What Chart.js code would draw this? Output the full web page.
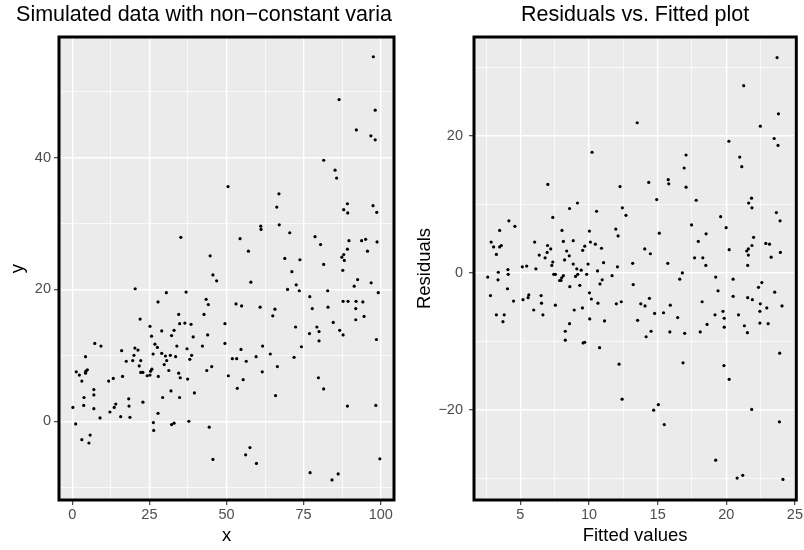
<!DOCTYPE html>
<html>
<head>
<meta charset="utf-8">
<script src="https://cdn.jsdelivr.net/npm/chart.js@4.4.1/dist/chart.umd.min.js"></script>
<style>
  body { margin: 0; background: #fff; }
  #wrap { position: relative; width: 804px; height: 550px; }
  canvas { position: absolute; top: 0; }
  #leftChart { left: 0; }
  #rightChart { left: 402px; }
</style>
</head>
<body>
<div id="wrap">
  <canvas id="leftChart" width="402" height="550"></canvas>
  <canvas id="rightChart" width="402" height="550"></canvas>
</div>
<script>
// left panel: simulated data
const xVals = [
  35.2, 44.7, 50.5, 45.6,
  97.6, 86.5, 98.2, 92.1, 96.8, 98.2, 81.5, 85.2, 85.7, 67.0, 66.3, 89.2, 88.0, 89.3, 97.5, 98.7,
  61.1, 61.2, 67.1, 54.4, 70.5, 78.7, 80.5, 89.7, 93.8, 95.1, 98.8, 57.1, 89.2, 95.7, 88.0, 87.4,
  88.2, 68.9, 73.8, 81.5, 71.2, 87.7,
  57.9, 69.8, 72.6, 73.6, 92.5, 91.4, 96.9, 99.2, 77.0, 82.8, 53.1, 54.9, 60.9, 87.8, 89.4, 92.0,
  94.2, 77.8, 82.9, 91.9, 65.0, 65.7, 94.6, 91.9, 84.6, 49.5, 72.4, 79.3, 80.0, 76.9, 86.7, 87.8,
  98.6, 80.0, 49.5, 54.7, 61.7, 74.3, 51.9, 53.3, 56.4, 59.6, 64.2, 71.9, 66.5, 61.6, 50.6, 55.4,
  53.5, 79.8, 81.5, 65.9, 89.2, 98.4, 57.6, 56.2, 59.7, 99.7, 77.1, 86.2, 84.2,
  46.8, 20.4, 30.5, 36.9, 27.8, 43.4, 44.1, 22.0, 34.5, 42.7, 34.8, 36.5, 38.5, 25.2, 29.0, 33.0,
  25.7, 32.2, 39.2, 43.9, 7.3, 9.3, 26.8, 27.6, 33.9, 37.2, 42.2, 16.0, 20.3, 21.3, 26.2, 29.0,
  30.2, 31.8, 33.5, 38.7, 4.3, 20.0, 17.5, 19.6, 22.2, 30.6, 38.1, 21.7, 29.8, 1.3, 2.3, 3.1,
  4.4, 4.9, 4.3, 22.2, 22.9, 24.3, 25.2, 25.4, 25.8, 27.9, 31.3, 34.5, 35.0, 37.4, 43.6, 45.2,
  11.8, 13.3, 16.3, 7.0, 7.0, 3.8, 3.7, 0.2, 7.0, 9.0, 12.2, 13.6, 14.1, 15.7, 18.3, 18.4,
  18.7, 22.9, 29.3, 32.0, 34.8, 39.6, 27.8, 1.1, 26.3, 32.2, 33.0, 37.8, 26.4, 44.4, 3.1, 5.8,
  5.4, 45.6
];
const yVals = [
  27.9, 25.1, 35.6, 22.2,
  55.3, 48.8, 47.2, 44.2, 43.3, 42.7, 39.6, 38.1, 36.9, 34.5, 32.5, 33.0, 32.1, 31.6, 32.7, 31.7,
  29.6, 29.1, 29.8, 27.7, 28.6, 28.0, 26.8, 27.4, 27.4, 27.6, 27.2, 25.8, 26.1, 25.8, 25.3, 24.9,
  24.4, 24.7, 24.5, 23.8, 22.7, 22.9,
  21.1, 20.0, 20.7, 19.8, 21.5, 20.5, 21.0, 19.5, 18.9, 19.8, 17.8, 17.5, 17.3, 18.2, 18.2, 18.2,
  18.1, 17.1, 17.3, 17.1, 16.0, 17.0, 15.9, 15.4, 15.0, 14.8, 14.3, 14.3, 13.6, 13.3, 13.8, 13.1,
  12.4, 12.2, 11.8, 10.9, 11.4, 11.3, 9.5, 9.5, 9.1, 9.8, 10.2, 9.7, 8.3, 7.5, 6.9, 6.3,
  5.0, 6.6, 4.9, 3.9, 2.3, 2.4, -4.0, -5.1, -6.4, -5.7, -7.8, -8.0, -8.9,
  21.3, 20.1, 19.5, 19.6, 18.1, 18.5, 17.7, 15.5, 16.2, 16.2, 14.8, 14.9, 14.7, 14.4, 13.7, 13.8,
  12.9, 13.0, 12.8, 13.1, 11.8, 11.4, 11.7, 11.2, 11.4, 11.0, 11.4, 10.7, 11.1, 10.8, 10.2, 10.3,
  9.9, 10.0, 9.8, 10.0, 9.8, 10.0, 9.1, 9.2, 9.2, 9.2, 9.4, 8.4, 8.6, 7.5, 7.0, 6.1,
  7.6, 7.8, 7.3, 7.4, 7.4, 6.9, 7.0, 7.6, 7.9, 6.8, 7.7, 7.3, 6.6, 6.4, 7.7, 8.3,
  6.1, 6.5, 6.8, 4.8, 4.0, 3.6, 2.4, 2.1, 1.9, 0.5, 1.4, 2.1, 2.6, 0.7, 3.4, 2.3,
  0.6, 2.9, 3.6, 4.6, 3.6, 4.3, 1.2, -0.4, -0.2, -0.5, -0.3, 0.0, -1.4, -0.9, -2.8, -2.1,
  -3.3, -5.8
];

// right panel: residuals vs fitted
const fittedVals = [
  10.22, 7.0, 12.26, 9.16, 8.58, 12.43, 10.55, 12.69, 7.36, 4.16, 4.6, 3.49, 8.03, 10.03, 11.95, 12.12,
  2.87, 3.05, 3.49, 3.61, 3.25, 6.04, 6.98, 7.21, 6.95, 6.37, 6.8, 7.36, 7.29, 8.13, 8.85, 8.37,
  8.56, 8.22, 8.85, 9.11, 9.43, 9.54, 9.69, 10.1, 10.46, 10.91, 9.93, 11.06, 10.62, 9.83, 12.07, 13.18,
  5.14, 5.46, 6.13, 4.09, 3.39,
  2.62, 3.37, 4.11, 7.43, 7.55, 7.86, 7.96, 8.01, 8.13, 8.6, 9.02, 9.18, 9.33, 10.03, 10.17, 10.96,
  10.8, 11.68, 13.22, 2.82, 4.06, 4.5, 5.19, 5.56, 5.61, 6.51, 6.54, 7.55, 5.97, 6.64, 3.25, 3.82,
  3.73, 8.92, 9.52, 10.05, 10.65, 11.13, 11.99, 12.35, 8.58, 8.27, 8.27, 9.57, 9.69, 10.77, 12.19, 12.41,
  23.7, 21.27, 23.8, 13.51, 22.48, 23.49, 23.77, 20.19, 17.07, 20.98, 21.13, 16.93, 15.77, 15.81, 14.35, 17.07,
  14.93, 17.81, 21.84, 21.63, 21.87, 23.65, 23.92, 19.59, 17.47, 19.99, 15.12, 18.53, 21.99, 17.96, 22.88, 23.15,
  21.87, 21.61, 21.49, 14.06, 14.47, 20.21, 21.61, 23.94, 23.27, 17.69, 18.29, 18.51, 15.74, 21.56, 16.8,
  16.61, 19.23, 20.5, 22.59, 22.35, 23.53, 19.4, 20.5, 21.56, 21.9, 14.4, 18.24, 13.77, 14.08, 15.92, 22.48,
  24.06, 22.95, 22.45, 14.78, 15.43, 16.46, 19.18, 19.76, 19.85, 20.89, 13.54, 18.6, 19.85, 21.32, 22.45, 23.05,
  14.52, 15.89, 16.97, 18.1, 21.54, 14.16, 23.89, 16.85, 19.83, 20.21, 15.05, 14.71, 21.85, 15.48, 23.87, 19.23,
  20.79, 21.2, 24.13
];
const residVals = [
  17.6, 12.9, 12.6, 10.2, 9.4, 9.5, 9.0, 8.4, 8.1, 7.6, 6.8, 6.2, 6.2, 6.1, 6.4, 5.4,
  4.5, 3.8, 3.8, 4.0, 2.7, 4.5, 4.0, 3.5, 3.0, 2.6, 2.2, 1.6, 1.1, 4.6, 4.7, 3.2,
  2.5, 1.9, 1.3, 0.6, 0.4, 3.3, 3.9, 4.5, 4.2, 3.6, 1.3, 1.5, 0.3, -0.2, 0.9, 1.4,
  0.9, 1.0, 0.6, 0.5, 0.1,
  -0.6, -1.0, -0.2, -0.2, -0.2, -1.1, -1.1, -0.7, -0.4, -2.0, -0.5, -0.2, -1.8, -2.9, -3.8, -1.0,
  -1.6, -0.4, -1.7, -3.3, -2.3, -4.1, -3.9, -3.6, -3.2, -3.3, -4.4, -4.7, -5.4, -6.1, -6.1, -6.1,
  -7.1, -5.4, -5.1, -6.7, -4.4, -7.0, -4.5, -4.2, -7.4, -8.5, -9.8, -10.2, -10.1, -10.9, -13.3, -18.4,
  31.4, 27.3, 23.2, 21.9, 21.4, 19.6, 18.6, 19.2, 17.2, 16.9, 15.5, 15.3, 13.6, 13.0, 13.2, 12.5,
  10.7, 10.6, 10.9, 10.2, 9.5, 8.8, 7.6, 8.2, 7.0, 6.6, 5.8, 5.7, 5.2, 4.6, 4.3, 4.2,
  4.0, 3.5, 3.2, 3.5, 2.8, 3.4, 2.6, 3.0, 2.3, 2.2, 2.2, 1.1, 1.4, 1.1, 0.0,
  -0.9, -0.6, -0.9, -1.4, -2.1, -2.8, -2.6, -3.4, -3.6, -3.9, -3.7, -4.2, -4.5, -4.8, -4.7, -4.5,
  -4.8, -5.1, -5.6, -5.9, -5.8, -6.5, -6.1, -5.6, -6.6, -6.1, -6.9, -7.5, -7.9, -7.7, -7.3, -7.4,
  -8.5, -8.6, -8.8, -8.6, -8.7, -9.3, -11.7, -13.1, -13.5, -15.5, -19.2, -20.0, -19.9, -22.1, -21.7, -27.3,
  -29.9, -29.5, -30.1
];

// ticks (all grid lines) and the labelled ones
const leftXTicks = [0, 12.5, 25, 37.5, 50, 62.5, 75, 87.5, 100];
const leftXLabels = [0, 25, 50, 75, 100];
const leftYTicks = [-10, 0, 10, 20, 30, 40, 50];
const leftYLabels = [0, 20, 40];
const rightXTicks = [2.5, 5, 7.5, 10, 12.5, 15, 17.5, 20, 22.5, 25];
const rightXLabels = [5, 10, 15, 20, 25];
const rightYTicks = [-30, -20, -10, 0, 10, 20, 30];
const rightYLabels = [-20, 0, 20];

const FONT = "'Liberation Sans', Arial, sans-serif";

function fmt(v) {
  return v < 0 ? '\u2212' + Math.abs(v) : String(v);
}

// grey panel behind, thick black frame on top
const panelFrame = {
  id: 'panelFrame',
  beforeDraw(chart) {
    const a = chart.chartArea;
    const ctx = chart.ctx;
    ctx.save();
    ctx.fillStyle = '#EBEBEB';
    ctx.fillRect(a.left, a.top, a.right - a.left, a.bottom - a.top);
    ctx.restore();
  },
  afterDraw(chart) {
    const a = chart.chartArea;
    const ctx = chart.ctx;
    ctx.save();
    ctx.strokeStyle = '#000';
    ctx.lineWidth = 3;
    ctx.strokeRect(a.left, a.top, a.right - a.left, a.bottom - a.top);
    ctx.restore();
  }
};

const panelTitle = {
  id: 'panelTitle',
  afterDraw(chart, args, o) {
    const a = chart.chartArea;
    const ctx = chart.ctx;
    ctx.save();
    ctx.font = '21.5px ' + FONT;
    ctx.fillStyle = '#000';
    ctx.textAlign = 'center';
    ctx.textBaseline = 'alphabetic';
    const x = o.x != null ? o.x : (a.left + a.right) / 2;
    ctx.fillText(o.text, x, 21);
    ctx.restore();
  }
};

function axis(min, max, ticks, labels, title, opt) {
  const horizontal = opt.horizontal;
  return {
    type: 'linear',
    min: min,
    max: max,
    afterBuildTicks: s => { s.ticks = ticks.map(v => ({ value: v })); },
    afterFit: s => {
      if (horizontal) s.height = opt.size;
      else s.width = opt.size;
    },
    ticks: {
      autoSkip: false,
      maxRotation: 0,
      padding: opt.tickPad,
      color: '#4D4D4D',
      font: { size: 14.5, family: FONT },
      callback: v => labels.includes(v) ? fmt(v) : ''
    },
    grid: {
      color: '#FFFFFF',
      lineWidth: c => (c.tick && labels.includes(c.tick.value)) ? 1.4 : 0.7,
      drawTicks: true,
      tickLength: 5,
      tickWidth: 1.1,
      tickColor: c => (c.tick && labels.includes(c.tick.value)) ? '#333333' : 'rgba(0,0,0,0)'
    },
    border: { display: false },
    title: {
      display: true,
      text: title,
      color: '#000',
      font: { size: 18.5, family: FONT },
      padding: opt.titlePad
    }
  };
}

function points(xs, ys) {
  return xs.map((x, i) => ({ x: x, y: ys[i] }));
}

Chart.defaults.font.family = FONT;

new Chart(document.getElementById('leftChart'), {
  type: 'scatter',
  data: {
    datasets: [{
      data: points(xVals, yVals),
      pointRadius: 1.6,
      pointHoverRadius: 1.6,
      backgroundColor: '#000',
      borderWidth: 0
    }]
  },
  options: {
    responsive: false,
    animation: false,
    devicePixelRatio: 1,
    layout: { padding: { left: 0, right: 8, top: 37, bottom: 0 } },
    plugins: {
      legend: { display: false },
      tooltip: { enabled: false },
      panelTitle: { text: 'Simulated data with non\u2212constant varia', x: 204 }
    },
    scales: {
      x: axis(-4.3, 104.3, leftXTicks, leftXLabels, 'x',
        { horizontal: true, size: 50, tickPad: 1, titlePad: { top: 0, bottom: 3 } }),
      y: axis(-11.95, 58.3, leftYTicks, leftYLabels, 'y',
        { horizontal: false, size: 59, tickPad: 3, titlePad: { top: 7, bottom: 0 } })
    }
  },
  plugins: [panelFrame, panelTitle]
});

new Chart(document.getElementById('rightChart'), {
  type: 'scatter',
  data: {
    datasets: [{
      data: points(fittedVals, residVals),
      pointRadius: 1.6,
      pointHoverRadius: 1.6,
      backgroundColor: '#000',
      borderWidth: 0
    }]
  },
  options: {
    responsive: false,
    animation: false,
    devicePixelRatio: 1,
    layout: { padding: { left: 0, right: 6, top: 37, bottom: 0 } },
    plugins: {
      legend: { display: false },
      tooltip: { enabled: false },
      panelTitle: { text: 'Residuals vs. Fitted plot' }
    },
    scales: {
      x: axis(1.62, 25.1, rightXTicks, rightXLabels, 'Fitted values',
        { horizontal: true, size: 50, tickPad: 1, titlePad: { top: 0, bottom: 3 } }),
      y: axis(-33.1, 34.4, rightYTicks, rightYLabels, 'Residuals',
        { horizontal: false, size: 72, tickPad: 6, titlePad: { top: 12, bottom: 0 } })
    }
  },
  plugins: [panelFrame, panelTitle]
});
</script>
</body>
</html>
